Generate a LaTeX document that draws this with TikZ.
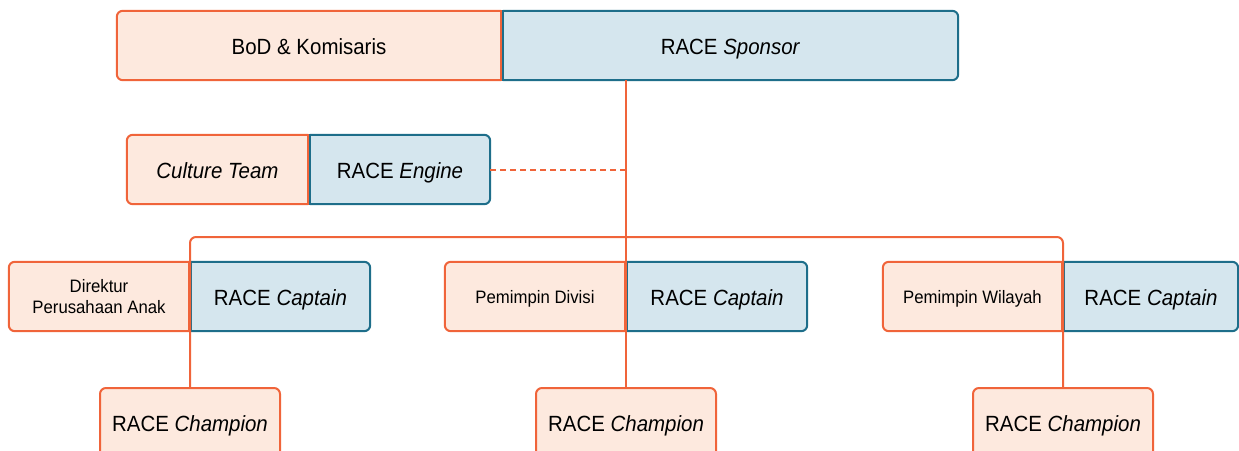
\documentclass[tikz,border=0pt]{standalone}
\usepackage{fontspec}
\setmainfont{Liberation Sans}[FakeStretch=0.93]
\usetikzlibrary{backgrounds}
\definecolor{orn}{HTML}{F0643A}
\definecolor{pch}{HTML}{FDE9DE}
\definecolor{bln}{HTML}{1E6E8A}
\definecolor{blf}{HTML}{D5E6EE}
\tikzset{
  cell/.style={inner sep=0pt, align=center, font=\fontsize{22}{26}\selectfont},
  oneline/.style={text height=17pt, text depth=0pt},
  smalltext/.style={font=\fontsize{18}{21}\selectfont},
  oline/.style={draw=orn, line width=2pt},
  bline/.style={draw=bln, line width=2pt},
  link/.style={draw=orn, line width=2pt},
  dlink/.style={link, dash pattern=on 6pt off 4pt},
  champbox/.style={cell, oneline, draw=orn, line width=2pt, fill=pch, rounded corners=6pt,
    minimum height=70, minimum width=180},
}
\newcommand\lhalf[1]{%
  \fill[pch, rounded corners=6pt] (#1.north east) -- (#1.north west) -- (#1.south west) -- (#1.south east);
  \draw[oline, rounded corners=6pt] (#1.north east) -- (#1.north west) -- (#1.south west) -- (#1.south east);
  \draw[oline, line cap=rect] (#1.north east) -- (#1.south east);}
\newcommand\rhalf[1]{%
  \fill[blf, rounded corners=6pt] (#1.north west) -- (#1.north east) -- (#1.south east) -- (#1.south west);
  \draw[bline, rounded corners=6pt] (#1.north west) -- (#1.north east) -- (#1.south east) -- (#1.south west);
  \draw[bline, line cap=rect] (#1.north west) -- (#1.south west);}
\begin{document}
\begin{tikzpicture}[x=1pt, y=-1pt]
\useasboundingbox (0,0) rectangle (1239,450);
\clip (0,0) rectangle (1239,450);
% top row
\node[cell, oneline, minimum width=384, minimum height=69] (bod) at (309,45.5) {BoD \& Komisaris};
\node[cell, oneline, minimum width=455, minimum height=69] (sponsor) at (730.5,45.5) {RACE \textit{Sponsor}};
% culture row
\node[cell, oneline, minimum width=181, minimum height=69] (culture) at (217.5,169.5) {\textit{Culture Team}};
\node[cell, oneline, minimum width=180, minimum height=69] (engine) at (400,169.5) {RACE \textit{Engine}};
% captain row
\node[cell, smalltext, minimum width=180, minimum height=69] (dir) at (99,296.5) {Direktur\\Perusahaan Anak};
\node[cell, oneline, minimum width=179, minimum height=69] (capL) at (280.5,296.5) {RACE \textit{Captain}};
\node[cell, oneline, smalltext, text height=14pt, minimum width=180, minimum height=69] (div) at (535,296.5) {Pemimpin Divisi};
\node[cell, oneline, minimum width=180, minimum height=69] (capM) at (717,296.5) {RACE \textit{Captain}};
\node[cell, oneline, smalltext, text height=14pt, minimum width=179, minimum height=69] (wil) at (972.5,296.5) {Pemimpin Wilayah};
\node[cell, oneline, minimum width=174, minimum height=69] (capR) at (1151,296.5) {RACE \textit{Captain}};
% champions
\node[champbox] (champL) at (190,423) {RACE \textit{Champion}};
\node[champbox] (champM) at (626,423) {RACE \textit{Champion}};
\node[champbox] (champR) at (1063,423) {RACE \textit{Champion}};
\coordinate (bus) at (0,237);
\begin{pgfonlayer}{background}
  \lhalf{bod}\rhalf{sponsor}
  \lhalf{culture}\rhalf{engine}
  \lhalf{dir}\rhalf{capL}
  \lhalf{div}\rhalf{capM}
  \lhalf{wil}\rhalf{capR}
\end{pgfonlayer}
% connectors
\draw[link] (champM.north |- sponsor.south) -- (champM.north);
\draw[dlink] (engine.east) -- (engine.east -| champM.north);
\draw[link, rounded corners=6pt] (champL.north) -- (champL.north |- bus) -- (champR.north |- bus) -- (champR.north);
\end{tikzpicture}
\end{document}
